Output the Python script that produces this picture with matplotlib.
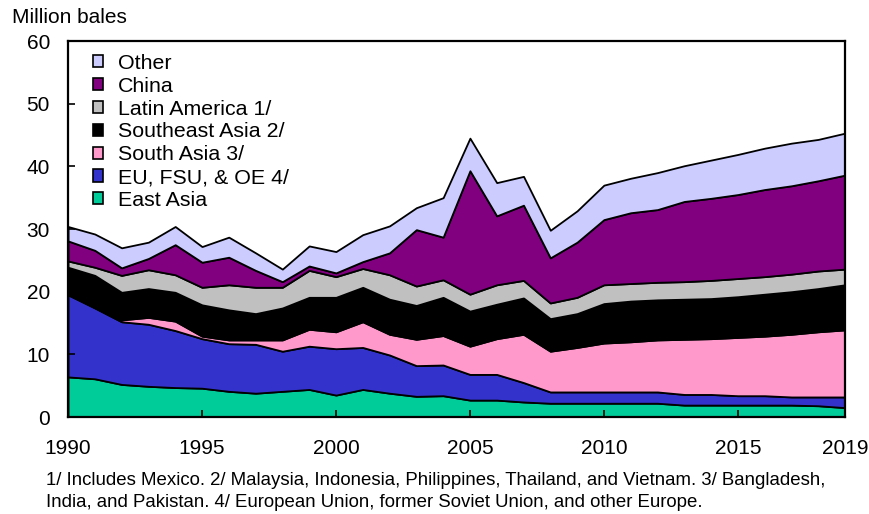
"""Stacked area chart: cotton mill use by region, 1990-2019."""

import matplotlib

matplotlib.use("Agg")
import matplotlib.pyplot as plt
from matplotlib.patches import Patch

plt.rcParams["font.family"] = ["Liberation Sans", "DejaVu Sans"]

# --------------------------------------------------------------------- #
# Data (million bales)
# --------------------------------------------------------------------- #
YEARS = list(range(1990, 2020))

EAST_ASIA = [6.4, 6.1, 5.2, 4.9, 4.7, 4.6, 4.1, 3.8, 4.1, 4.4,
             3.5, 4.4, 3.8, 3.3, 3.4, 2.7, 2.7, 2.4, 2.2, 2.2,
             2.2, 2.2, 2.2, 1.9, 1.9, 1.9, 1.9, 1.9, 1.8, 1.5]
EU_FSU_OE = [13.1, 11.3, 10.0, 9.9, 9.1, 7.9, 7.6, 7.8, 6.4, 6.9,
             7.4, 6.7, 6.1, 4.9, 4.9, 4.1, 4.1, 3.1, 1.8, 1.8,
             1.8, 1.8, 1.8, 1.7, 1.7, 1.5, 1.5, 1.3, 1.4, 1.7]
SOUTH_ASIA = [0.3, 0.3, 0.3, 1.1, 1.5, 0.4, 0.6, 0.7, 1.8, 2.7,
              2.7, 4.1, 3.3, 4.2, 4.7, 4.5, 5.7, 7.7, 6.5, 7.1,
              7.8, 8.0, 8.3, 8.8, 8.9, 9.3, 9.5, 10.0, 10.4, 10.7]
SOUTHEAST_ASIA = [4.1, 4.9, 4.4, 4.6, 4.6, 5.0, 4.8, 4.2, 5.1, 5.1,
                  5.5, 5.5, 5.6, 5.4, 6.1, 5.6, 5.5, 5.8, 5.2, 5.4,
                  6.3, 6.5, 6.4, 6.4, 6.4, 6.5, 6.7, 6.8, 6.9, 7.2]
LATIN_AMERICA = [1.0, 1.3, 2.7, 3.0, 2.8, 2.8, 4.0, 4.2, 3.3, 4.3,
                 3.3, 3.0, 3.9, 3.1, 2.8, 2.7, 3.1, 2.8, 2.5, 2.6,
                 3.0, 2.8, 2.8, 2.8, 2.9, 2.9, 2.8, 2.8, 2.8, 2.5]
CHINA = [3.2, 2.7, 1.2, 1.8, 4.8, 4.0, 4.4, 2.7, 0.9, 0.7,
         0.6, 1.1, 3.5, 9.0, 6.8, 19.7, 11.0, 12.0, 7.2, 8.8,
         10.4, 11.3, 11.6, 12.8, 13.1, 13.4, 13.9, 14.1, 14.4, 15.0]
OTHER = [2.3, 2.6, 3.2, 2.6, 2.9, 2.5, 3.2, 2.8, 2.0, 3.2,
         3.4, 4.3, 4.3, 3.5, 6.3, 5.2, 5.3, 4.6, 4.4, 5.0,
         5.5, 5.5, 5.9, 5.7, 6.1, 6.4, 6.6, 6.8, 6.6, 6.7]

LABELS = ["East Asia", "EU, FSU, & OE 4/", "South Asia 3/",
          "Southeast Asia 2/", "Latin America 1/", "China", "Other"]
COLORS = ["#00CC99", "#3333CC", "#FF99CC", "#000000",
          "#C0C0C0", "#800080", "#CCCCFF"]

X_TICKS = [1990, 1995, 2000, 2005, 2010, 2015, 2019]
Y_TICKS = [0, 10, 20, 30, 40, 50, 60]

FOOTNOTE = ("1/ Includes Mexico. 2/ Malaysia, Indonesia, Philippines, Thailand, "
            "and Vietnam. 3/ Bangladesh,\n"
            "India, and Pakistan. 4/ European Union, former Soviet Union, "
            "and other Europe.")


def main() -> None:
    fig = plt.figure(figsize=(8.69, 5.14), dpi=100)
    ax = fig.add_axes([0.0783, 0.1887, 0.8941, 0.7315])

    series = [EAST_ASIA, EU_FSU_OE, SOUTH_ASIA, SOUTHEAST_ASIA,
              LATIN_AMERICA, CHINA, OTHER]
    ax.stackplot(YEARS, series, colors=COLORS,
                 edgecolor="black", linewidth=1.3)

    ax.set_xlim(1990, 2019)
    ax.set_ylim(0, 60)
    ax.set_xticks(X_TICKS)
    ax.set_yticks(Y_TICKS)
    ax.tick_params(axis="both", direction="in", length=5, width=1.2,
                   labelsize=15)
    ax.tick_params(axis="x", pad=16)
    ax.tick_params(axis="y", pad=13)
    for spine in ax.spines.values():
        spine.set_linewidth(1.6)

    # legend: stack order reversed, small square swatches
    handles = [Patch(facecolor=c, edgecolor="black", linewidth=1.2)
               for c in COLORS][::-1]
    ax.legend(handles, LABELS[::-1], loc="upper left",
              bbox_to_anchor=(0.015, 1.0), frameon=False, fontsize=15.4,
              handlelength=0.5, handleheight=0.5, handletextpad=0.7,
              labelspacing=0.18, borderaxespad=0.2)

    fig.text(0.014, 0.965, "Million bales", fontsize=15, va="center")
    fig.text(0.053, 0.006, FOOTNOTE, fontsize=13.4, va="bottom",
             linespacing=1.4)

    fig.savefig("out.png", dpi=100)
    plt.close(fig)


if __name__ == "__main__":
    main()
